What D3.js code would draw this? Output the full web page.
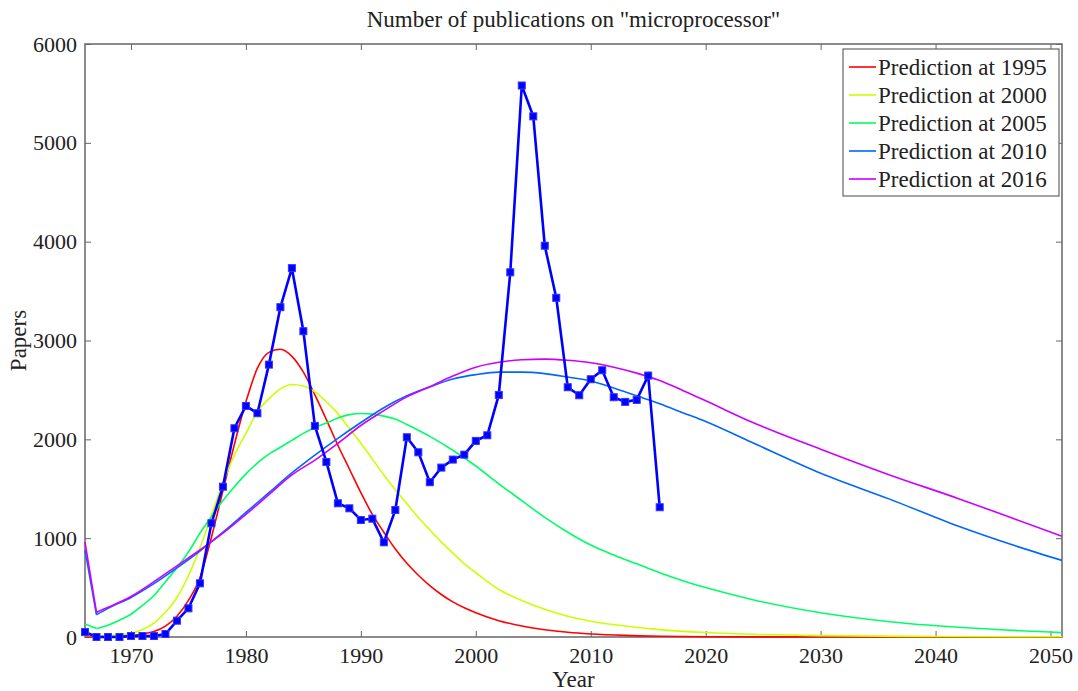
<!DOCTYPE html>
<html>
<head>
<meta charset="utf-8">
<script src="https://cdn.jsdelivr.net/npm/d3@7"></script>
<style>
  body { margin: 0; background: #fff; }
  text { font-family: "Liberation Serif", "DejaVu Serif", serif; fill: #222; }
</style>
</head>
<body>
<svg id="chart" width="1078" height="691"></svg>
<script>
// observed yearly paper counts
var years = d3.range(1966, 2017);
var papers = [50, 0, 0, 0, 10, 10, 10, 30, 165, 290, 543, 1151, 1521, 2112, 2338, 2264, 2756, 3337, 3732, 3094,
  2136, 1771, 1353, 1302, 1184, 1197, 958, 1285, 2021, 1869, 1566, 1714, 1795, 1845, 1984, 2041, 2449, 3690, 5580, 5268,
  3959, 3432, 2527, 2446, 2608, 2699, 2426, 2379, 2399, 2645, 1313];

// prediction curves at selected years
var p1995Years = [1966, 1968, 1970, 1972, 1973, 1974, 1975, 1976, 1977, 1978, 1979, 1980, 1981, 1982, 1983, 1984, 1985, 1986, 1987, 1988, 1989, 1990, 1991, 1992, 1993, 1994, 1995, 1996, 1997, 1998, 1999, 2000, 2002, 2004, 2006, 2008, 2010, 2013, 2016, 2020, 2030, 2051];
var p1995 = [0, 3, 15, 55, 110, 210, 370, 600, 1010, 1480, 1950, 2380, 2720, 2880, 2912, 2840, 2680, 2450, 2200, 1940, 1700, 1460, 1240, 1060, 890, 746, 625, 520, 430, 355, 295, 245, 165, 112, 74, 48, 31, 16, 8, 3, 0, 0];

var p2000Years = [1966, 1968, 1970, 1971, 1972, 1973, 1974, 1975, 1976, 1977, 1978, 1979, 1980, 1981, 1982, 1983, 1984, 1985, 1986, 1987, 1988, 1989, 1990, 1991, 1992, 1993, 1994, 1995, 1996, 1997, 1998, 1999, 2000, 2002, 2004, 2006, 2008, 2010, 2013, 2016, 2020, 2025, 2030, 2040, 2051];
var p2000 = [15, 15, 37, 75, 140, 250, 400, 620, 900, 1230, 1560, 1840, 2060, 2280, 2410, 2510, 2555, 2540, 2480, 2380, 2260, 2110, 1960, 1800, 1640, 1490, 1350, 1210, 1083, 960, 850, 740, 650, 480, 370, 280, 210, 160, 112, 75, 45, 25, 14, 5, 2];

var p2005Years = [1966, 1967, 1968, 1969, 1970, 1971, 1972, 1973, 1974, 1975, 1976, 1977, 1978, 1979, 1980, 1981, 1982, 1983, 1984, 1985, 1986, 1987, 1988, 1989, 1990, 1991, 1992, 1993, 1994, 1996, 1998, 2000, 2002, 2004, 2006, 2008, 2010, 2012, 2014, 2016, 2018, 2020, 2024, 2030, 2036, 2042, 2051];
var p2005 = [132, 85, 120, 170, 230, 320, 420, 560, 700, 860, 1050, 1220, 1380, 1520, 1650, 1760, 1850, 1920, 1990, 2060, 2120, 2165, 2215, 2250, 2262, 2255, 2235, 2205, 2150, 2030, 1890, 1730, 1550, 1380, 1210, 1060, 930, 830, 740, 650, 570, 500, 380, 245, 155, 98, 44];

var p2010Years = [1966, 1967, 1968, 1970, 1972, 1974, 1976, 1978, 1980, 1982, 1984, 1986, 1988, 1990, 1992, 1994, 1996, 1998, 2000, 2002, 2004, 2006, 2008, 2010, 2012, 2014, 2016, 2018, 2020, 2024, 2030, 2036, 2042, 2047, 2051];
var p2010 = [880, 225, 290, 400, 540, 700, 870, 1060, 1260, 1460, 1660, 1840, 2010, 2170, 2320, 2440, 2530, 2610, 2655, 2680, 2680, 2665, 2630, 2590, 2520, 2440, 2360, 2270, 2180, 1970, 1657, 1395, 1120, 920, 775];

var p2016Years = [1966, 1967, 1968, 1970, 1972, 1974, 1976, 1978, 1980, 1982, 1984, 1986, 1988, 1990, 1992, 1994, 1996, 1998, 2000, 2002, 2004, 2006, 2008, 2010, 2012, 2014, 2016, 2018, 2020, 2024, 2030, 2036, 2042, 2047, 2051];
var p2016 = [960, 250, 300, 410, 560, 720, 880, 1050, 1240, 1440, 1640, 1790, 1960, 2140, 2290, 2430, 2533, 2640, 2730, 2780, 2805, 2812, 2800, 2775, 2730, 2670, 2595, 2495, 2390, 2175, 1900, 1640, 1400, 1190, 1020];

var legendNames = ["Prediction at 1995", "Prediction at 2000", "Prediction at 2005", "Prediction at 2010", "Prediction at 2016"];
var lineColors = ["#ff0000", "#ccff00", "#00ff66", "#0066ff", "#cc00ff"];
var xTicks = [1970, 1980, 1990, 2000, 2010, 2020, 2030, 2040, 2050];
var yTicks = [0, 1000, 2000, 3000, 4000, 5000, 6000];

var predictions = [
  {x: p1995Years, y: p1995}, {x: p2000Years, y: p2000}, {x: p2005Years, y: p2005},
  {x: p2010Years, y: p2010}, {x: p2016Years, y: p2016}
];

var m = {left: 85, right: 1062, top: 44, bottom: 637};
var svg = d3.select("#chart");

var x = d3.scaleLinear().domain([1966, 2051]).range([m.left, m.right]);
var y = d3.scaleLinear().domain([0, 6000]).range([m.bottom, m.top]);

var axisColor = "#666";

// box
svg.append("rect")
  .attr("x", m.left).attr("y", m.top)
  .attr("width", m.right - m.left).attr("height", m.bottom - m.top)
  .attr("fill", "none").attr("stroke", axisColor).attr("stroke-width", 1.5);

// axes with inward ticks
function styleAxis(g) {
  g.select(".domain").remove();
  g.selectAll(".tick line").attr("stroke", axisColor);
  g.selectAll(".tick text").attr("font-size", 22).attr("fill", "#222")
    .style("font-family", "'Liberation Serif', serif");
}
svg.append("g").attr("transform", "translate(0," + m.bottom + ")")
  .call(d3.axisBottom(x).tickValues(xTicks).tickFormat(d3.format("d")).tickSizeInner(-6).tickPadding(10))
  .call(styleAxis);
svg.append("g").attr("transform", "translate(0," + m.top + ")")
  .call(d3.axisTop(x).tickValues(xTicks).tickFormat("").tickSizeInner(-6))
  .call(styleAxis);
svg.append("g").attr("transform", "translate(" + m.left + ",0)")
  .call(d3.axisLeft(y).tickValues(yTicks).tickFormat(d3.format("d")).tickSizeInner(-6).tickPadding(8))
  .call(styleAxis);
svg.append("g").attr("transform", "translate(" + m.right + ",0)")
  .call(d3.axisRight(y).tickValues(yTicks).tickFormat("").tickSizeInner(-6))
  .call(styleAxis);

// prediction lines: straight first segment, smooth after
var plot = svg.append("g");
var smooth = d3.line().x(function(d) { return x(d[0]); }).y(function(d) { return y(d[1]); }).curve(d3.curveMonotoneX);
var straight = d3.line().x(function(d) { return x(d[0]); }).y(function(d) { return y(d[1]); });

predictions.forEach(function(p, i) {
  var pts = p.x.map(function(yr, j) { return [yr, p.y[j]]; });
  plot.append("path").attr("d", straight(pts.slice(0, 2)))
    .attr("fill", "none").attr("stroke", lineColors[i]).attr("stroke-width", 1.6);
  plot.append("path").attr("d", smooth(pts.slice(1)))
    .attr("fill", "none").attr("stroke", lineColors[i]).attr("stroke-width", 1.6);
});

// observed series
var obs = years.map(function(yr, j) { return [yr, papers[j]]; });
plot.append("path").attr("d", straight(obs))
  .attr("fill", "none").attr("stroke", "#0000ff").attr("stroke-width", 2.6);
plot.selectAll("rect.mk").data(obs).enter().append("rect")
  .attr("class", "mk")
  .attr("x", function(d) { return x(d[0]) - 3.5; })
  .attr("y", function(d) { return y(d[1]) - 3.5; })
  .attr("width", 7).attr("height", 7)
  .attr("fill", "#0000ff").attr("stroke", "#3333ff").attr("stroke-width", 1);

// labels
svg.append("text").attr("x", (m.left + m.right) / 2).attr("y", 27)
  .attr("text-anchor", "middle").attr("font-size", 23)
  .text('Number of publications on "microprocessor"');
svg.append("text").attr("x", (m.left + m.right) / 2).attr("y", 687)
  .attr("text-anchor", "middle").attr("font-size", 23).text("Year");
svg.append("text").attr("transform", "translate(26," + ((m.top + m.bottom) / 2) + ") rotate(-90)")
  .attr("text-anchor", "middle").attr("font-size", 23).text("Papers");

// legend
var lg = svg.append("g").attr("transform", "translate(843,49)");
lg.append("rect").attr("width", 216).attr("height", 147)
  .attr("fill", "#fff").attr("stroke", axisColor).attr("stroke-width", 1.2);
legendNames.forEach(function(name, i) {
  var ry = 18 + i * 28;
  lg.append("line").attr("x1", 6).attr("x2", 33).attr("y1", ry).attr("y2", ry)
    .attr("stroke", lineColors[i]).attr("stroke-width", 1.6);
  lg.append("text").attr("x", 35).attr("y", ry + 8).attr("font-size", 23).text(name);
});
</script>
</body>
</html>
